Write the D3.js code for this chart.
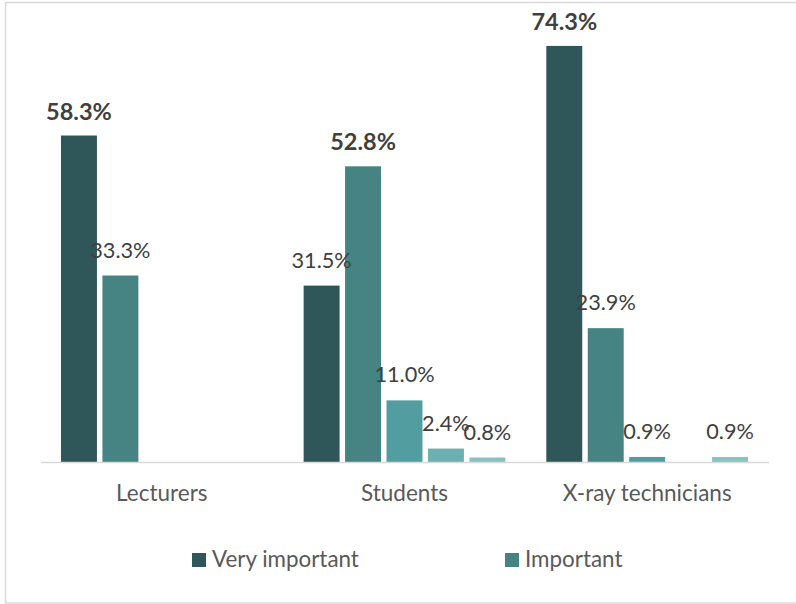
<!DOCTYPE html>
<html>
<head>
<meta charset="utf-8">
<script src="https://cdn.jsdelivr.net/npm/d3@7"></script>
<style>
  html, body { margin: 0; padding: 0; background: #fff; }
  svg { display: block; }
  text { font-family: Lato, "Noto Sans", sans-serif; }
</style>
</head>
<body>
<svg id="chart" width="796" height="604"></svg>
<script>
// ---- data ----
const categories = ["Lecturers", "Students", "X-ray technicians"];
const seriesNames = ["Very important", "Important", "Series 3", "Series 4", "Series 5"];
const legendSeries = ["Very important", "Important"];
const veryImportant = [58.3, 31.5, 74.3];
const important = [33.3, 52.8, 23.9];
const series3 = [null, 11.0, 0.9];
const series4 = [null, 2.4, null];
const series5 = [null, 0.8, 0.9];
const yTicks = [0, 20, 40, 60, 80];

const colors = ["#2f5658", "#468383", "#529d9f", "#6cb0b1", "#88c2c3"];
const seriesValues = [veryImportant, important, series3, series4, series5];

const svg = d3.select("#chart");

// border
svg.append("rect")
  .attr("x", 5.5).attr("y", 2.5)
  .attr("width", 800).attr("height", 600.5)
  .attr("fill", "#fff").attr("stroke", "#d9d9d9").attr("stroke-width", 1.5);

const plot = { left: 40.5, right: 768.5, top: 14, bottom: 462 };

const x0 = d3.scaleBand().domain(categories).range([plot.left, plot.right]).padding(0);
const x1 = d3.scaleBand().domain(seriesNames).range([0, x0.bandwidth()])
  .paddingInner(0.1325).paddingOuter(0.494);
const y = d3.scaleLinear().domain([0, d3.max(yTicks)]).range([plot.bottom, plot.top]);

// rows
const rows = [];
categories.forEach((c, ci) => {
  seriesNames.forEach((s, si) => {
    const v = seriesValues[si][ci];
    if (v !== null && v !== undefined) rows.push({ cat: c, ci, series: s, si, value: v });
  });
});
const maxByCat = categories.map((c, ci) => d3.max(seriesValues, arr => arr[ci] == null ? -1 : arr[ci]));

// bars
svg.append("g").selectAll("rect").data(rows).join("rect")
  .attr("x", d => x0(d.cat) + x1(d.series))
  .attr("y", d => y(d.value))
  .attr("width", x1.bandwidth())
  .attr("height", d => y(0) - y(d.value))
  .attr("fill", d => colors[d.si]);

// axis line
const xAxis = d3.axisBottom(x0).tickSize(0).tickPadding(23);
const ax = svg.append("g").attr("transform", `translate(0,${plot.bottom})`).call(xAxis);
ax.select(".domain").attr("stroke", "#d9d9d9").attr("stroke-width", 1.5);
ax.selectAll("text").attr("font-size", 22.5).attr("fill", "#595959")
  .attr("font-family", "Lato, 'Noto Sans', sans-serif");

// labels
svg.append("g").selectAll("text").data(rows).join("text")
  .attr("x", d => x0(d.cat) + x1(d.series) + x1.bandwidth() / 2)
  .attr("y", d => y(d.value) - (d.value === maxByCat[d.ci] ? 16 : 18))
  .attr("text-anchor", "middle")
  .attr("font-size", d => d.value === maxByCat[d.ci] ? 23.5 : 21.7)
  .attr("font-weight", d => d.value === maxByCat[d.ci] ? "bold" : "normal")
  .attr("fill", "#404040")
  .text(d => d.value.toFixed(1) + "%");

// legend
const legendX = [192, 505];
const lg = svg.append("g").selectAll("g").data(legendSeries).join("g")
  .attr("transform", (d, i) => `translate(${legendX[i]},553)`);
lg.append("rect").attr("width", 14).attr("height", 14)
  .attr("fill", d => colors[seriesNames.indexOf(d)]);
lg.append("text").attr("x", 20).attr("y", 14).attr("font-size", 22.4)
  .attr("fill", "#595959").text(d => d);
</script>
</body>
</html>
